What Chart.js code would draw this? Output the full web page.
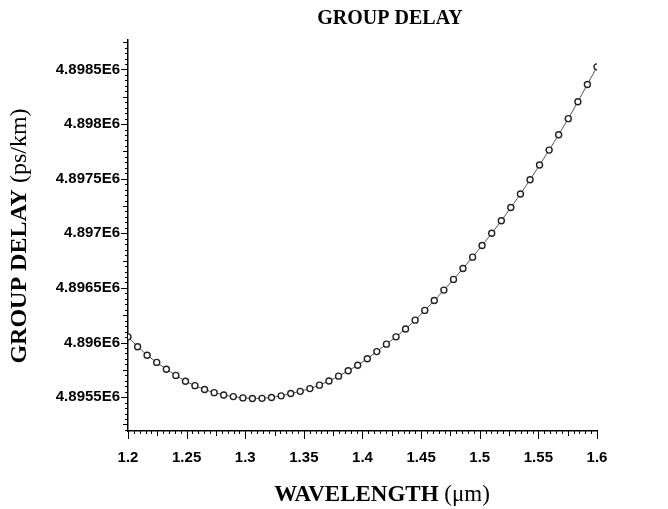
<!DOCTYPE html>
<html>
<head>
<meta charset="utf-8">
<script src="https://cdn.jsdelivr.net/npm/chart.js@4.4.1/dist/chart.umd.min.js"></script>
<style>
  html, body { margin: 0; padding: 0; background: #fff; }
</style>
</head>
<body>
<canvas id="delayChart" width="668" height="509"></canvas>
<script>
// wavelength in um, group delay in ps/km
const wavelength = [
  1.2000, 1.2082, 1.2163, 1.2245, 1.2327, 1.2408, 1.2490, 1.2571, 1.2653, 1.2735,
  1.2816, 1.2898, 1.2980, 1.3061, 1.3143, 1.3224, 1.3306, 1.3388, 1.3469, 1.3551,
  1.3633, 1.3714, 1.3796, 1.3878, 1.3959, 1.4041, 1.4122, 1.4204, 1.4286, 1.4367,
  1.4449, 1.4531, 1.4612, 1.4694, 1.4776, 1.4857, 1.4939, 1.5020, 1.5102, 1.5184,
  1.5265, 1.5347, 1.5429, 1.5510, 1.5592, 1.5673, 1.5755, 1.5837, 1.5918, 1.6000
];
const groupDelay = [
  4896052, 4895962, 4895884, 4895818, 4895756, 4895699, 4895646, 4895605, 4895570, 4895541,
  4895520, 4895505, 4895493, 4895488, 4895489, 4895497, 4895512, 4895533, 4895553, 4895578,
  4895610, 4895648, 4895692, 4895741, 4895792, 4895852, 4895917, 4895985, 4896052, 4896124,
  4896205, 4896294, 4896385, 4896480, 4896578, 4896678, 4896782, 4896889, 4897000, 4897115,
  4897236, 4897360, 4897490, 4897625, 4897762, 4897903, 4898050, 4898205, 4898363, 4898524
];

const xTickValues = [1.2, 1.25, 1.3, 1.35, 1.4, 1.45, 1.5, 1.55, 1.6];
const xTickLabels = ['1.2', '1.25', '1.3', '1.35', '1.4', '1.45', '1.5', '1.55', '1.6'];
const yTickValues = [4895500, 4896000, 4896500, 4897000, 4897500, 4898000, 4898500];
const yTickLabels = ['4.8955E6', '4.896E6', '4.8965E6', '4.897E6', '4.8975E6', '4.898E6', '4.8985E6'];

const chartTitle = 'GROUP DELAY';
const xTitle = ['WAVELENGTH ', '(\u03bcm)'];
const yTitle = ['GROUP DELAY ', '(ps/km)'];

const X_MIN = 1.2, X_MAX = 1.6;
const Y_MIN = 4895190, Y_MAX = 4898770;

function labelFor(values, labels, v) {
  const i = values.findIndex(t => Math.abs(t - v) < 1e-6 * Math.max(1, Math.abs(t)));
  return i >= 0 ? labels[i] : '';
}

// small outward tick marks: major / half / minor, drawn through the scales
const minorTicks = {
  id: 'minorTicks',
  afterDraw(chart) {
    const { ctx, scales: { x, y } } = chart;
    ctx.save();
    ctx.strokeStyle = '#000';
    ctx.lineWidth = 1;
    ctx.beginPath();
    for (let k = 0; k <= 80; k++) {
      const v = X_MIN + k * 0.005;
      const px = Math.round(x.getPixelForValue(v)) + 0.5;
      const len = k % 10 === 0 ? 8 : (k % 5 === 0 ? 5 : 3);
      ctx.moveTo(px, y.bottom);
      ctx.lineTo(px, y.bottom + len);
    }
    const start = Math.ceil(Y_MIN / 50) * 50;
    for (let v = start; v <= Y_MAX; v += 50) {
      const k = Math.round((v - 4895500) / 50);
      const py = Math.round(y.getPixelForValue(v)) + 0.5;
      const m = ((k % 10) + 10) % 10;
      const len = m === 0 ? 7 : (m === 5 ? 5 : 3);
      ctx.moveTo(x.left, py);
      ctx.lineTo(x.left - len, py);
    }
    ctx.stroke();
    ctx.restore();
  }
};

// titles: bold words + regular unit in brackets
function drawMixed(ctx, parts, size) {
  const bold = `bold ${size}px "Liberation Serif"`;
  const reg = `${size}px "Liberation Serif"`;
  ctx.font = bold;
  const w1 = ctx.measureText(parts[0]).width;
  ctx.font = reg;
  const w2 = parts[1] ? ctx.measureText(parts[1]).width : 0;
  let x0 = -(w1 + w2) / 2;
  ctx.textAlign = 'left';
  ctx.textBaseline = 'alphabetic';
  ctx.font = bold;
  ctx.fillText(parts[0], x0, 0);
  if (parts[1]) {
    ctx.font = reg;
    ctx.fillText(parts[1], x0 + w1, 0);
  }
}

const titleText = {
  id: 'titleText',
  afterDraw(chart) {
    const { ctx, chartArea: a } = chart;
    ctx.save();
    ctx.fillStyle = '#000';

    ctx.save();
    ctx.translate(390, 24);
    drawMixed(ctx, [chartTitle], 20);
    ctx.restore();

    ctx.save();
    ctx.translate(382, 501);
    drawMixed(ctx, xTitle, 23);
    ctx.restore();

    ctx.save();
    ctx.translate(26, 236);
    ctx.rotate(-Math.PI / 2);
    drawMixed(ctx, yTitle, 24);
    ctx.restore();

    ctx.restore();
  }
};

const ctx = document.getElementById('delayChart').getContext('2d');
new Chart(ctx, {
  type: 'scatter',
  data: {
    datasets: [{
      label: 'Group delay',
      data: wavelength.map((w, i) => ({ x: w, y: groupDelay[i] })),
      showLine: true,
      borderColor: '#555',
      borderWidth: 1,
      pointRadius: 3,
      pointBorderWidth: 1.4,
      pointBorderColor: '#222',
      pointBackgroundColor: '#fff',
      tension: 0
    }]
  },
  options: {
    responsive: false,
    animation: false,
    layout: { padding: { left: 0, right: 71, top: 40, bottom: 0 } },
    plugins: {
      legend: { display: false },
      tooltip: { enabled: false },
      title: { display: false }
    },
    scales: {
      x: {
        type: 'linear',
        min: X_MIN,
        max: X_MAX,
        afterFit: (s) => { s.height = 78; },
        afterBuildTicks: (s) => { s.ticks = xTickValues.map(v => ({ value: v })); },
        grid: { display: false, drawTicks: false },
        border: { display: true, color: '#000', width: 1.5 },
        ticks: {
          color: '#000',
          padding: 18,
          maxRotation: 0,
          autoSkip: false,
          font: { family: 'Liberation Sans', size: 15, weight: 'bold' },
          callback: (v) => labelFor(xTickValues, xTickLabels, v)
        }
      },
      y: {
        type: 'linear',
        min: Y_MIN,
        max: Y_MAX,
        afterFit: (s) => { s.width = 128; },
        afterBuildTicks: (s) => { s.ticks = yTickValues.map(v => ({ value: v })); },
        grid: { display: false, drawTicks: false },
        border: { display: true, color: '#000', width: 1.5 },
        ticks: {
          color: '#000',
          padding: 8,
          autoSkip: false,
          font: { family: 'Liberation Sans', size: 15, weight: 'bold' },
          callback: (v) => labelFor(yTickValues, yTickLabels, v)
        }
      }
    }
  },
  plugins: [minorTicks, titleText]
});
</script>
</body>
</html>
